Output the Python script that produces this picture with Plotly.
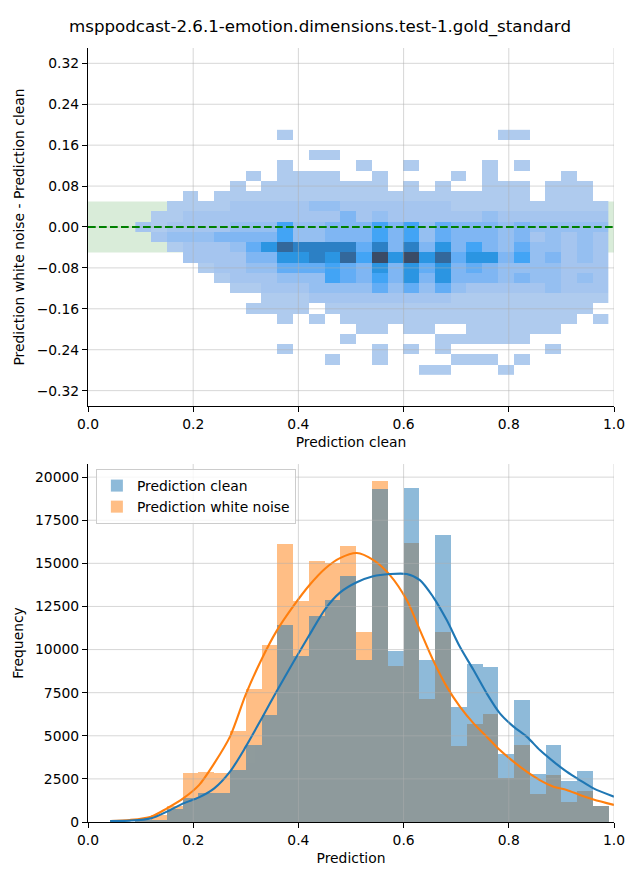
import plotly.graph_objects as go

TITLE = "msppodcast-2.6.1-emotion.dimensions.test-1.gold_standard"

# ---------------- shared bins (bin width 0.03) ----------------
bin_left_edges = [0.09, 0.12, 0.15, 0.18, 0.21, 0.24, 0.27, 0.30, 0.33, 0.36,
                  0.39, 0.42, 0.45, 0.48, 0.51, 0.54, 0.57, 0.60, 0.63, 0.66,
                  0.69, 0.72, 0.75, 0.78, 0.81, 0.84, 0.87, 0.90, 0.93, 0.96]
bin_width = 0.03
bin_centers = [round(e + bin_width / 2, 3) for e in bin_left_edges]

# ---------------- top: 2D histogram (difference vs clean) ----------------
diff_bin_centers = [-0.28, -0.26, -0.24, -0.22, -0.20, -0.18, -0.16, -0.14, -0.12, -0.10,
                    -0.08, -0.06, -0.04, -0.02, 0.00, 0.02, 0.04, 0.06, 0.08, 0.10,
                    0.12, 0.14, 0.16, 0.18]


def cells(ks, level=1):
    row = [0] * 30
    for k in ks:
        row[k] = level
    return row


# count level per cell (0 = empty), rows follow diff_bin_centers
heat_counts = [
    cells([18, 19, 23]),                                                   # -0.28
    cells([12, 15, 20, 21, 22, 24]),                                       # -0.26
    cells([9, 15, 17, 19, 26]),                                            # -0.24
    cells([13, 19, 20, 21, 22, 23, 24]),                                   # -0.22
    cells([14, 15, 17, 18, 21, 22, 23, 24, 25, 26]),                       # -0.20
    cells([9, 11] + list(range(13, 28)) + [29]),                           # -0.18
    cells([7, 8, 9, 10] + list(range(12, 29))),                            # -0.16
    [0, 0, 0, 0, 0, 0, 0, 0, 1, 1, 1, 2, 2, 2, 2, 2, 2, 2, 2, 2, 1, 1, 1, 1, 1, 1, 1, 1, 1, 1],  # -0.14
    [0, 0, 0, 0, 0, 0, 1, 1, 2, 2, 2, 3, 3, 3, 3, 5, 3, 5, 3, 5, 3, 2, 2, 2, 2, 2, 3, 2, 2, 2],  # -0.12
    [0, 0, 0, 0, 0, 1, 2, 2, 2, 3, 3, 3, 6, 5, 4, 6, 4, 7, 4, 7, 4, 4, 4, 3, 4, 3, 3, 2, 3, 2],  # -0.10
    [0, 0, 0, 0, 1, 2, 2, 3, 3, 5, 5, 5, 6, 5, 4, 7, 4, 7, 5, 7, 4, 5, 4, 3, 3, 3, 3, 2, 2, 2],  # -0.08
    [0, 0, 0, 2, 2, 2, 2, 4, 4, 7, 7, 8, 7, 9, 6, 10, 7, 10, 7, 9, 5, 7, 7, 4, 6, 3, 4, 2, 3, 2],  # -0.06
    [0, 0, 1, 2, 2, 2, 3, 5, 7, 9, 8, 8, 8, 8, 5, 8, 4, 8, 4, 7, 4, 6, 4, 3, 5, 3, 3, 2, 3, 2],  # -0.04
    [0, 2, 3, 3, 3, 4, 4, 4, 4, 6, 3, 3, 4, 4, 4, 6, 4, 6, 3, 5, 4, 4, 4, 3, 4, 2, 3, 2, 3, 2],  # -0.02
    [2, 1, 2, 2, 2, 2, 3, 3, 3, 6, 3, 3, 4, 4, 4, 6, 4, 6, 3, 5, 4, 4, 4, 3, 4, 3, 3, 3, 3, 3],  # 0.00
    [0, 1, 1, 2, 2, 2, 2, 2, 2, 2, 2, 2, 2, 4, 2, 3, 2, 2, 2, 2, 2, 2, 3, 2, 2, 2, 2, 2, 2, 2],  # 0.02
    [0, 0, 1, 1, 1, 1, 2, 2, 2, 2, 2, 3, 3, 2, 2, 2, 2, 2, 2, 2, 1, 1, 1, 1, 1, 1, 1, 1, 1, 1],  # 0.04
    cells([3] + list(range(5, 25)) + [26, 27, 28]),                        # 0.06
    cells([6, 8, 9, 10, 11, 12, 13, 14, 15, 17, 19, 22, 23, 24, 26, 27, 28]),  # 0.08
    cells([7, 9, 10, 11, 12, 15, 20, 22, 27]),                             # 0.10
    cells([9, 14, 17, 22, 24]),                                            # 0.12
    cells([11, 12]),                                                       # 0.14
    cells([]),                                                             # 0.16
    cells([9, 23, 24]),                                                    # 0.18
]

# ---------------- bottom: 1D histograms + KDE ----------------
clean_counts = [60, 120, 740, 1410, 1700, 1700, 3010, 4460, 6200, 11420,
                9620, 11940, 12870, 14260, 9390, 19300, 9900, 19360, 9390, 16640,
                6670, 9160, 8990, 3940, 7070, 2780, 4460, 2380, 2960, 950]
noise_counts = [100, 400, 930, 2820, 2880, 2820, 5280, 7710, 10260, 16120,
                12810, 15130, 15030, 16000, 11000, 19770, 9040, 16170, 7130, 11010,
                4410, 5680, 6260, 2550, 4460, 1620, 2720, 1180, 1800, 900]

kde_x = [0.042, 0.08, 0.12, 0.15, 0.181, 0.211, 0.24, 0.27, 0.30, 0.331, 0.359, 0.39,
         0.42, 0.451, 0.479, 0.511, 0.542, 0.574, 0.606, 0.631, 0.656, 0.682, 0.707,
         0.733, 0.758, 0.783, 0.809, 0.834, 0.859, 0.885, 0.910, 0.935, 0.961, 1.0]
kde_clean = [60, 80, 210, 600, 1080, 1430, 1950, 2920, 4370, 6050, 7600, 9250,
             10800, 12350, 13300, 13900, 14250, 14380, 14380, 14030, 13060, 11710, 10160,
             8810, 7460, 6300, 5530, 4950, 4170, 3500, 2920, 2430, 1950, 1470]
kde_noise = [60, 120, 310, 790, 1370, 2140, 3400, 4950, 7400, 9500, 11100, 12500,
             13700, 14700, 15300, 15600, 15200, 14320, 12870, 11130, 9390, 7850, 6690,
             5720, 4950, 4170, 3500, 2920, 2430, 2050, 1860, 1570, 1310, 990]

top_yticks = [-0.32, -0.24, -0.16, -0.08, 0.0, 0.08, 0.16, 0.24, 0.32]
x_ticks = [0.0, 0.2, 0.4, 0.6, 0.8, 1.0]
bottom_yticks = [0, 2500, 5000, 7500, 10000, 12500, 15000, 17500, 20000]

BLUE = "#1f77b4"
ORANGE = "#ff7f0e"
FONT = "DejaVu Sans"
TICK_SIZE = 13.89
TITLE_SIZE = 16.67
GRID = "rgba(176,176,176,0.5)"

heat_z = [[(v if v > 0 else None) for v in row] for row in heat_counts]
heat_scale = [
    [0.00, "#afcbee"],
    [0.12, "#a4c5ef"],
    [0.25, "#91bdf1"],
    [0.40, "#70b1f4"],
    [0.55, "#43a5f6"],
    [0.66, "#2b96e4"],
    [0.77, "#2c82c8"],
    [0.89, "#33689b"],
    [1.00, "#3a4b66"],
]

fig = go.Figure()

fig.add_trace(go.Heatmap(
    x=bin_centers, y=diff_bin_centers, z=heat_z,
    zmin=1, zmax=10, colorscale=heat_scale, showscale=False,
    hoverongaps=False, xaxis="x", yaxis="y", showlegend=False,
))

# noise drawn first, clean on top (as in the reference overlap colour)
fig.add_trace(go.Bar(
    x=bin_centers, y=noise_counts, width=bin_width, name="Prediction white noise",
    marker=dict(color=ORANGE, line=dict(width=0)), opacity=0.5,
    xaxis="x2", yaxis="y2", legendrank=2,
))
fig.add_trace(go.Bar(
    x=bin_centers, y=clean_counts, width=bin_width, name="Prediction clean",
    marker=dict(color=BLUE, line=dict(width=0)), opacity=0.5,
    xaxis="x2", yaxis="y2", legendrank=1,
))
fig.add_trace(go.Scatter(
    x=kde_x, y=kde_noise, mode="lines",
    line=dict(color=ORANGE, width=2.1, shape="spline", smoothing=0.8),
    xaxis="x2", yaxis="y2", showlegend=False,
))
fig.add_trace(go.Scatter(
    x=kde_x, y=kde_clean, mode="lines",
    line=dict(color=BLUE, width=2.1, shape="spline", smoothing=0.8),
    xaxis="x2", yaxis="y2", showlegend=False,
))

shapes = []
# green tolerance band (top panel)
shapes.append(dict(type="rect", xref="x domain", yref="y", x0=0, x1=1, y0=-0.05, y1=0.05,
                   fillcolor="rgba(0,128,0,0.15)", line=dict(width=0), layer="below"))
# grid lines drawn above the data (matplotlib style)
for xv in x_ticks[1:]:
    shapes.append(dict(type="line", xref="x", yref="y domain", x0=xv, x1=xv, y0=0, y1=1,
                       line=dict(color=GRID, width=1), layer="above"))
    shapes.append(dict(type="line", xref="x2", yref="y2 domain", x0=xv, x1=xv, y0=0, y1=1,
                       line=dict(color=GRID, width=1), layer="above"))
for yv in top_yticks:
    shapes.append(dict(type="line", xref="x domain", yref="y", x0=0, x1=1, y0=yv, y1=yv,
                       line=dict(color=GRID, width=1), layer="above"))
for yv in bottom_yticks[1:]:
    shapes.append(dict(type="line", xref="x2 domain", yref="y2", x0=0, x1=1, y0=yv, y1=yv,
                       line=dict(color=GRID, width=1), layer="above"))
# zero line
shapes.append(dict(type="line", xref="x domain", yref="y", x0=0, x1=1, y0=0, y1=0,
                   line=dict(color="green", width=2.1, dash="7.7px,3.3px"), layer="above"))

axis_common = dict(
    showgrid=False, zeroline=False, showline=True, linecolor="black", linewidth=1.1,
    ticks="outside", ticklen=5, tickwidth=1.1, tickcolor="black",
    tickfont=dict(family=FONT, size=TICK_SIZE, color="black"),
    mirror=False, layer="above traces", automargin=False,
)

# the page body adds an 8px offset, so the figure is 632x872 with matching margins
fig.update_layout(
    width=632, height=872,
    margin=dict(l=80, r=26, t=40, b=58),
    paper_bgcolor="white", plot_bgcolor="white",
    font=dict(family=FONT, size=TICK_SIZE, color="black"),
    title=dict(text=TITLE, x=(320 - 8) / 632, xanchor="center", y=1 - 18 / 872, yanchor="middle",
               font=dict(family=FONT, size=TITLE_SIZE, color="black")),
    barmode="overlay",
    bargap=0,
    shapes=shapes,
    xaxis=dict(axis_common, domain=[0, 1], anchor="y", range=[0, 1],
               tickvals=x_ticks, tickformat=".1f",
               title=dict(text="Prediction clean", standoff=6,
                          font=dict(family=FONT, size=TICK_SIZE))),
    yaxis=dict(axis_common, domain=[0.5375, 1], anchor="x", range=[-0.35, 0.35],
               tickvals=top_yticks, tickformat=".2f",
               title=dict(text="Prediction white noise - Prediction clean", standoff=8,
                          font=dict(family=FONT, size=TICK_SIZE))),
    xaxis2=dict(axis_common, domain=[0, 1], anchor="y2", range=[0, 1],
                tickvals=x_ticks, tickformat=".1f",
                title=dict(text="Prediction", standoff=6,
                           font=dict(family=FONT, size=TICK_SIZE))),
    yaxis2=dict(axis_common, domain=[0, 0.4625], anchor="x2", range=[0, 20760],
                tickvals=bottom_yticks, tickformat="d",
                title=dict(text="Frequency", standoff=8,
                           font=dict(family=FONT, size=TICK_SIZE))),
    legend=dict(x=0.015, y=0.456, xanchor="left", yanchor="top",
                bgcolor="rgba(255,255,255,0.8)", bordercolor="#cccccc", borderwidth=1,
                font=dict(family=FONT, size=TICK_SIZE), tracegroupgap=0),
)

fig.write_html("out.html")
